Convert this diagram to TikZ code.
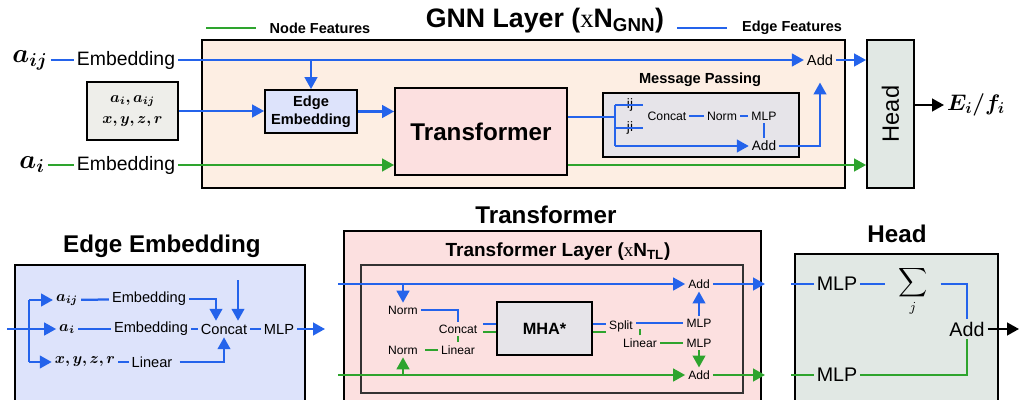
\RequirePackage{fix-cm}
\documentclass[tikz,border=0pt]{standalone}
\usepackage{amsmath}
\usepackage{bm}
\usepackage{fontspec}
\setmainfont{Liberation Sans}
\newfontfamily\serifx{Liberation Serif}
\usetikzlibrary{arrows.meta}

\definecolor{edgeblue}{RGB}{36,99,235}
\definecolor{nodegreen}{RGB}{46,164,46}
\definecolor{gnnfill}{RGB}{253,238,227}
\definecolor{eefill}{RGB}{221,227,251}
\definecolor{transfill}{RGB}{252,224,224}
\definecolor{headfill}{RGB}{225,232,228}
\definecolor{mpfill}{RGB}{230,228,233}
\definecolor{geomfill}{RGB}{238,238,234}

\begin{document}
\begin{tikzpicture}[x=0.025cm, y=-0.025cm,
    box/.style={draw, line width=1.3pt, inner sep=0pt},
    txt/.style={inner sep=2pt, font=\fontsize{#1}{#1}\selectfont},
    txt/.default=10.4,
    hdr/.style={font=\bfseries\fontsize{#1}{#1}\selectfont},
    hdr/.default=17.2,
    eflow/.style={edgeblue, line width=1.6pt},
    nflow/.style={nodegreen, line width=1.6pt},
    arr/.style={-{Triangle[length=8.5pt,width=9pt]}}]
\useasboundingbox (0,0) rectangle (1019,400);

% GNN layer
\node[box, fill=gnnfill, minimum width=16.075cm, minimum height=3.7cm] (gnn) at (523.5,114) {};
\node[box, fill=headfill, minimum width=1.175cm, minimum height=3.7cm, font=\fontsize{16.8}{16.8}\selectfont] (head) at (890.5,114) {\rotatebox{90}{Head}};
\node[hdr=19] (gnnttl) at (545,21) {GNN Layer ({\serifx\mdseries x}N\textsubscript{GNN})};
\node[hdr=10.3] (nf) at (320,28) {Node Features};
\node[hdr=10.3] (ef) at (792,28) {Edge Features};
\draw[nflow] (nf.west) ++(-9,0) -- ++(-50,0);
\draw[eflow] (ef.west) ++(-10,0) -- ++(-50,0);

\node[txt=19] (aij) at (30,60) {$\bm{a}_{\bm{ij}}$};
\node[txt=13.8] (emb1) at (126,60) {Embedding};
\node[txt=10.4] (addE) at (820,60) {Add};
\node[box, fill=geomfill, minimum width=2.275cm, minimum height=1.45cm, align=center, font=\fontsize{11}{15}\selectfont] (geom) at (132.5,111) {$\bm{a_i,a_{ij}}$\\$\bm{x,y,z,r}$};
\node[box, fill=eefill, minimum width=2.3cm, minimum height=1.075cm, align=center, font=\bfseries\fontsize{10.4}{12.5}\selectfont] (eemb) at (311,111.5) {Edge\\Embedding};
\node[box, fill=transfill, minimum width=4.3cm, minimum height=2.175cm, font=\bfseries\fontsize{17.2}{17.2}\selectfont] (trans) at (481,131.5) {Transformer};
\node[txt=19] (ai) at (32,165) {$\bm{a}_{\bm{i}}$};
\node[txt=13.8] (emb2) at (126,165) {Embedding};
\node[txt=16] (out) at (976,105) {$\bm{E_i/f_i}$};

% message passing
\node[box, fill=mpfill, minimum width=4.9cm, minimum height=1.6cm] (mp) at (701,125) {};
\node[hdr=10.4] (mpttl) at (700,80) {Message Passing};
\node[txt=9.7] (ij) at (630,105) {ij};
\node[txt=9.7] (ji) at (630,128) {ji};
\node[txt=8.7] (mpcat) at (667,116) {Concat};
\node[txt=8.7] (mpnorm) at (722,116) {Norm};
\node[txt=8.7] (mpmlp) at (764,116) {MLP};
\node[txt=9.7] (mpadd) at (764,146) {Add};
\coordinate (mpj) at (615,117);

\draw[eflow] (aij.east |- emb1) -- (emb1);
\draw[eflow,arr] (emb1) -- (addE);
\draw[eflow,arr] (emb1 -| eemb) -- (eemb);
\draw[eflow,arr] (geom) -- (geom -| eemb.west);
\draw[eflow,arr] (eemb) -- (eemb -| trans.west);
\draw[nflow] (ai.east |- emb2) -- (emb2);
\draw[nflow,arr] (emb2) -- (emb2 -| trans.west);
\draw[nflow,arr] (emb2 -| trans.east) -- (emb2 -| head.west);
\draw[eflow] (mpj -| trans.east) -- (mpj);
\draw[eflow] (mpj |- ij) -- (mpj |- mpadd);
\draw[eflow] (mpj |- ij) -- ++(28,0);
\draw[eflow] (mpj |- ji) -- ++(28,0);
\draw[eflow,arr] (mpj |- mpadd) -- (mpadd);
\draw[eflow] (mpcat) -- (mpnorm);
\draw[eflow] (mpnorm) -- (mpmlp);
\draw[eflow] (mpmlp) -- (mpadd);
\draw[eflow,arr,shorten >=10pt] (mpadd) -| (addE);
\draw[eflow,arr] (addE) -- (addE -| head.west);
\draw[line width=1.6pt,arr] (head.east |- out) -- (out);

% edge embedding
\node[hdr] (eettl) at (162,246) {Edge Embedding};
\node[box, fill=eefill, minimum width=7.25cm, minimum height=3.425cm] (eebox) at (160,333.5) {};
\node[txt=11] (baij) at (67,300) {$\bm{a}_{\bm{ij}}$};
\node[txt=11] (bai) at (67,329) {$\bm{a}_{\bm{i}}$};
\node[txt=11] (bxyz) at (85,362) {$\bm{x,y,z,r}$};
\node[txt] (bemb1) at (149,299) {Embedding};
\node[txt] (bemb2) at (151,329) {Embedding};
\node[txt] (blin) at (152,362) {Linear};
\node[txt] (bcat) at (224,329) {Concat};
\node[txt] (bmlp) at (279,329) {MLP};
\coordinate (bin) at (7,329);
\coordinate (bfork) at (29,329);
\coordinate (btop) at (238,280);
\coordinate (bout) at (325,329);

\draw[eflow] (bin) -- (bfork);
\draw[eflow] (bfork |- baij) -- (bfork |- bxyz);
\draw[eflow,arr] (bfork |- baij) -- (baij);
\draw[eflow,arr] (bfork) -- (bai);
\draw[eflow,arr] (bfork |- bxyz) -- (bxyz);
\draw[eflow] (baij) -- (bemb1);
\draw[eflow] (bai) -- (bemb2);
\draw[eflow] (bxyz) -- (blin);
\draw[eflow,arr] (bemb1) -| ([xshift=-0.2cm]bcat.north);
\draw[eflow,arr] (btop) -- (btop |- bcat.north);
\draw[eflow] (bemb2) -- (bcat);
\draw[eflow,arr,shorten <=3pt] (blin) -| (bcat);
\draw[eflow] (bcat) -- (bmlp);
\draw[eflow,arr] (bmlp) -- (bout);

% transformer
\node[hdr] (tttl) at (546,215) {Transformer};
\node[box, fill=transfill, minimum width=10.425cm, minimum height=4.275cm] (tbox) at (552.5,316.5) {};
\node[hdr=13.5] (tlttl) at (558,252) {Transformer Layer ({\serifx\mdseries x}N\textsubscript{TL})};
\node[box, draw=black!80, line width=1.2pt, minimum width=9.55cm, minimum height=3.2cm] (tlayer) at (552,329) {};
\node[box, fill=mpfill, minimum width=2.375cm, minimum height=1.325cm, font=\bfseries\fontsize{11.6}{11.6}\selectfont] (mha) at (544.5,328.5) {MHA*};
\node[txt=8.6] (tnorm1) at (403,310) {Norm};
\node[txt=8.6] (tcat) at (458,329) {Concat};
\node[txt=8.6] (tlin1) at (458,350) {Linear};
\node[txt=8.6] (tnorm2) at (403,350) {Norm};
\node[txt=8.6] (tadd1) at (699,284) {Add};
\node[txt=8.6] (tadd2) at (699,375) {Add};
\node[txt=8.6] (tsplit) at (621,326) {Split};
\node[txt=8.6] (tmlp1) at (699,323) {MLP};
\node[txt=8.6] (tlin2) at (640,343) {Linear};
\node[txt=8.6] (tmlp2) at (699,343) {MLP};
\coordinate (tin1) at (338,284);
\coordinate (tin2) at (338,375);
\coordinate (tout1) at (765,284);
\coordinate (tout2) at (765,375);

\draw[eflow,arr] (tin1) -- (tadd1);
\draw[eflow,arr] (tadd1) -- (tout1);
\draw[eflow,arr] (tin1 -| tnorm1) -- (tnorm1);
\draw[eflow] (tnorm1) -| (tcat);
\draw[eflow] ([yshift=0.11cm]mha.west) -- ++(-13,0);
\draw[nflow] ([yshift=-0.09cm]mha.west) -- ++(-13,0);
\draw[nflow] (tcat) -- (tlin1);
\draw[nflow,shorten <=3pt] (tnorm2) -- (tlin1);
\draw[nflow,arr] (tin2 -| tnorm2) -- (tnorm2);
\draw[nflow,arr] (tin2) -- (tadd2);
\draw[nflow,arr] (tadd2) -- (tout2);
\draw[eflow] ([yshift=0.11cm]mha.east) -- ++(13,0);
\draw[nflow] ([yshift=-0.09cm]mha.east) -- ++(13,0);
\draw[eflow] (tsplit.east |- tmlp1) -- (tmlp1);
\draw[nflow] (tlin2.north) -- ++(0,-6);
\draw[nflow] (tlin2) -- (tmlp2);
\draw[eflow,arr] (tmlp1) -- (tadd1);
\draw[nflow,arr] (tmlp2) -- (tadd2);

% head
\node[hdr] (hhttl) at (897,234) {Head};
\node[box, fill=headfill, minimum width=5.075cm, minimum height=3.7cm] (hbox) at (896.5,328) {};
\node[txt=14] (hmlp1) at (837,284) {MLP};
\node[txt=14] (hmlp2) at (837,375) {MLP};
\node[inner xsep=9pt, inner ysep=0pt, font=\fontsize{14}{14}\selectfont, anchor=north] (hsum) at (913,266) {$\displaystyle\sum_j$};
\node[txt=14] (hadd) at (967,329) {Add};
\coordinate (hout) at (1019,329);

\draw[eflow] (hmlp1.west) -- ++(-23,0);
\draw[nflow] (hmlp2.west) -- ++(-23,0);
\draw[eflow] (hmlp1) -- (hmlp1 -| hsum.west);
\draw[eflow] (hmlp1 -| hsum.east) -| (hadd);
\draw[nflow] (hmlp2) -| (hadd);
\draw[line width=1.6pt,arr] (hadd) -- (hout);
\end{tikzpicture}
\end{document}
